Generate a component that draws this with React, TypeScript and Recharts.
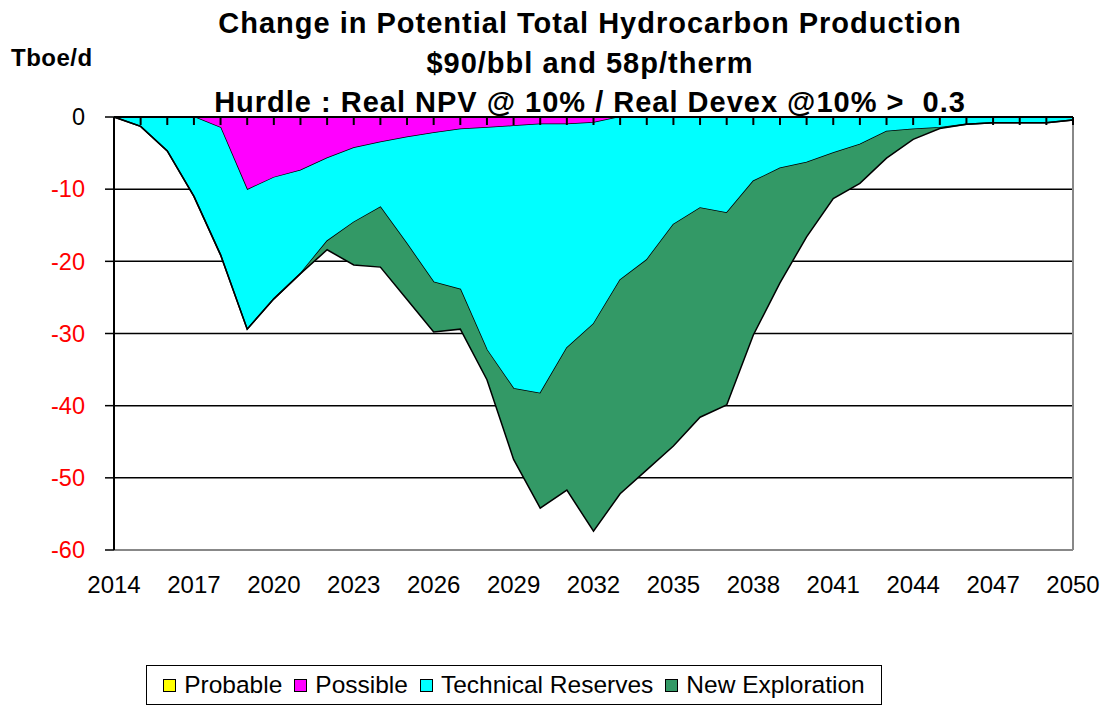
import { AreaChart, Area, XAxis, YAxis, CartesianGrid, ReferenceLine, LabelList } from 'recharts';

const years = [
  2014, 2015, 2016, 2017, 2018, 2019, 2020, 2021, 2022, 2023, 2024, 2025, 2026,
  2027, 2028, 2029, 2030, 2031, 2032, 2033, 2034, 2035, 2036, 2037, 2038, 2039,
  2040, 2041, 2042, 2043, 2044, 2045, 2046, 2047, 2048, 2049, 2050,
];

const probable = [
  0, 0, 0, 0, 0, 0, 0, 0, 0, 0, 0, 0, 0,
  0, 0, 0, 0, 0, 0, 0, 0, 0, 0, 0, 0, 0,
  0, 0, 0, 0, 0, 0, 0, 0, 0, 0, 0,
];

const possible = [
  0, 0, 0, 0, -1.5, -10.1, -8.4, -7.4, -5.7, -4.3, -3.5, -2.8, -2.2,
  -1.7, -1.5, -1.25, -1.0, -1.0, -0.8, 0, 0, 0, 0, 0, 0, 0,
  0, 0, 0, 0, 0, 0, 0, 0, 0, 0, 0,
];

const technical = [
  0, -1.3, -4.7, -11.0, -17.6, -19.3, -16.8, -14.3, -11.5, -10.3, -9.0, -14.8, -20.7,
  -22.2, -30.8, -36.4, -37.3, -31.0, -27.9, -22.6, -19.8, -14.9, -12.6, -13.3, -8.9, -7.1,
  -6.3, -5.0, -3.8, -2.0, -1.7, -1.5, -1.0, -0.8, -0.8, -0.8, -0.4,
];

const newExploration = [
  0, 0, 0, 0, 0, 0, 0, 0, -1.2, -5.9, -8.3, -7.7, -6.9,
  -5.5, -4.1, -9.8, -15.9, -19.7, -28.7, -29.6, -29.1, -30.7, -29.0, -26.6, -21.3, -15.9,
  -10.3, -6.3, -5.4, -3.7, -1.4, -0.1, 0, 0, 0, 0, 0,
];

const xTicks = [2014, 2017, 2020, 2023, 2026, 2029, 2032, 2035, 2038, 2041, 2044, 2047, 2050];
const yTicks = [-60, -50, -40, -30, -20, -10, 0];

const seriesNames = ['Probable', 'Possible', 'Technical Reserves', 'New Exploration'];
const seriesKeys = ['probable', 'possible', 'technical', 'newExploration'];
const seriesColors = ['#FFFF00', '#FF00FF', '#00FFFF', '#339966'];

const titleLines = [
  'Change in Potential Total Hydrocarbon Production',
  '$90/bbl and 58p/therm',
  'Hurdle : Real NPV @ 10% / Real Devex @10% >  0.3',
];

const data = years.map((year, i) => ({
  year,
  probable: probable[i],
  possible: possible[i],
  technical: technical[i],
  newExploration: newExploration[i],
}));

const FONT = '"Liberation Sans", Arial, sans-serif';
const W = 1109;
const H = 706;

function YTick({ x, y, payload }: any) {
  return (
    <text
      x={x}
      y={y}
      dy="0.35em"
      textAnchor="end"
      fontFamily={FONT}
      fontSize={23.5}
      fill={payload.value === 0 ? '#000' : '#FF0000'}
    >
      {payload.value}
    </text>
  );
}

// yearly tick mark hanging from the 0 line, drawn as the label of an invisible zero series
function ZeroTickLabel(props: any) {
  const { x, y } = props;
  if (x == null || y == null) return null;
  return <line x1={x} x2={x} y1={y} y2={y + 8} stroke="#000" strokeWidth={2} />;
}

export default function App() {
  return (
    <div style={{ position: 'absolute', left: 0, top: 0, width: W, height: H, background: '#fff', fontFamily: FONT }}>
      {titleLines.map((line, i) => (
        <div
          key={i}
          style={{
            position: 'absolute',
            left: 0,
            width: 1180,
            top: 6 + i * 39.5,
            textAlign: 'center',
            fontWeight: 'bold',
            fontSize: 29,
            letterSpacing: 1,
            lineHeight: '34px',
            whiteSpace: 'pre',
          }}
        >
          {line}
        </div>
      ))}
      <div style={{ position: 'absolute', left: 11, top: 44, fontWeight: 'bold', fontSize: 24, letterSpacing: 0.5, lineHeight: '28px' }}>
        Tboe/d
      </div>

      <AreaChart width={W} height={H} data={data} margin={{ top: 117, right: 36, bottom: 116, left: 0 }}>
        <CartesianGrid horizontal vertical={false} stroke="#000" strokeWidth={1.5} />
        <XAxis
          dataKey="year"
          type="number"
          domain={[2014, 2050]}
          ticks={xTicks}
          interval={0}
          height={40}
          axisLine={{ stroke: '#888', strokeWidth: 2 }}
          tickLine={false}
          tickMargin={20}
          tick={{ fontSize: 24, fill: '#000', fontFamily: FONT }}
        />
        <YAxis
          type="number"
          domain={[-60, 0]}
          ticks={yTicks}
          interval={0}
          width={114}
          axisLine={{ stroke: '#000', strokeWidth: 2 }}
          tickLine={{ stroke: '#000', strokeWidth: 1.5 }}
          tickSize={9}
          tickMargin={20}
          tick={<YTick />}
        />
        {seriesKeys.map((key, i) => (
          <Area
            key={key}
            type="linear"
            dataKey={key}
            name={seriesNames[i]}
            stackId="1"
            stroke="#000"
            strokeWidth={1.5}
            fill={seriesColors[i]}
            fillOpacity={1}
            dot={false}
            activeDot={false}
            isAnimationActive={false}
          />
        ))}
        <Area
          type="linear"
          dataKey="probable"
          legendType="none"
          stroke="#000"
          strokeWidth={2}
          fill="none"
          dot={false}
          activeDot={false}
          isAnimationActive={false}
        >
          <LabelList dataKey="probable" content={<ZeroTickLabel />} />
        </Area>
        <ReferenceLine x={2050} stroke="#888" strokeWidth={2} />
      </AreaChart>

      <div
        style={{
          position: 'absolute',
          left: 146,
          top: 665,
          width: 734,
          height: 38,
          border: '1.5px solid #000',
          display: 'flex',
          alignItems: 'center',
          justifyContent: 'center',
          fontSize: 24.5,
          whiteSpace: 'nowrap',
        }}
      >
        {seriesNames.map((name, i) => (
          <span key={name} style={{ display: 'inline-flex', alignItems: 'center', marginRight: i < 3 ? 12 : 0 }}>
            <span
              style={{
                display: 'inline-block',
                width: 11,
                height: 11,
                background: seriesColors[i],
                border: '1.5px solid #000',
                marginRight: 8,
              }}
            />
            {name}
          </span>
        ))}
      </div>
    </div>
  );
}
